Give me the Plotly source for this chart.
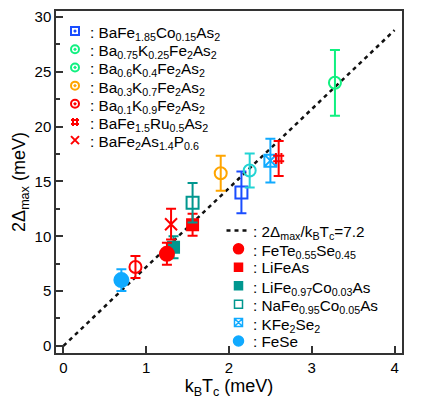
import plotly.graph_objects as go

# ---- data ----
names1 = [
    "BaFe<sub>1.85</sub>Co<sub>0.15</sub>As<sub>2</sub>",
    "Ba<sub>0.75</sub>K<sub>0.25</sub>Fe<sub>2</sub>As<sub>2</sub>",
    "Ba<sub>0.6</sub>K<sub>0.4</sub>Fe<sub>2</sub>As<sub>2</sub>",
    "Ba<sub>0.3</sub>K<sub>0.7</sub>Fe<sub>2</sub>As<sub>2</sub>",
    "Ba<sub>0.1</sub>K<sub>0.9</sub>Fe<sub>2</sub>As<sub>2</sub>",
    "BaFe<sub>1.5</sub>Ru<sub>0.5</sub>As<sub>2</sub>",
    "BaFe<sub>2</sub>As<sub>1.4</sub>P<sub>0.6</sub>",
]
kbtc1 = [2.15, 3.28, 2.25, 1.90, 0.87, 2.60, 1.30]
gap1 = [14.0, 24.0, 16.0, 15.75, 7.2, 17.1, 11.1]
err1 = [1.9, 3.0, 1.55, 1.6, 1.0, 1.6, 1.4]

names2 = [
    "FeTe<sub>0.55</sub>Se<sub>0.45</sub>",
    "LiFeAs",
    "LiFe<sub>0.97</sub>Co<sub>0.03</sub>As",
    "NaFe<sub>0.95</sub>Co<sub>0.05</sub>As",
    "KFe<sub>2</sub>Se<sub>2</sub>",
    "FeSe",
]
kbtc2 = [1.25, 1.56, 1.33, 1.56, 2.50, 0.70]
gap2 = [8.4, 11.05, 9.0, 13.05, 16.9, 6.0]
err2 = [1.0, 1.0, 1.0, 1.8, 2.0, 1.0]

ratio = 7.2
line_label = "2Δ<sub>max</sub>/k<sub>B</sub>T<sub>c</sub>=7.2"
line_x = [0, 4]
x_ticks = [0, 1, 2, 3, 4]
y_ticks = [0, 5, 10, 15, 20, 25, 30]

# ---- styles ----
RED = "#ff0000"
TEAL = "#00978f"
LBLUE = "#10aaff"
GREEN = "#10f080"
sty1 = [
    dict(color="#1a4dff", plot_sym="square-open", leg_sym="square-open-dot", size=12),
    dict(color=GREEN, plot_sym="circle-open", leg_sym="circle-open-dot", size=12),
    dict(color="#22d4d4", plot_sym="circle-open", leg_sym="circle-open-dot", size=12, leg_color=GREEN),
    dict(color="#ffa500", plot_sym="circle-open", leg_sym="circle-open-dot", size=12),
    dict(color=RED, plot_sym="circle-open", leg_sym="circle-open-dot", size=12),
    dict(color=RED, plot_sym="hash-open", leg_sym="hash-open", size=11),
    dict(color=RED, plot_sym="x-thin-open", leg_sym="x-thin-open", size=12),
]
sty2 = [
    dict(color=RED, plot_sym="circle", leg_sym="circle", size=14, leg_size=10),
    dict(color=RED, plot_sym="square", leg_sym="square", size=11, leg_size=8),
    dict(color=TEAL, plot_sym="square", leg_sym="square", size=11, leg_size=8),
    dict(color=TEAL, plot_sym="square-open", leg_sym="square-open", size=12, leg_size=8),
    dict(color=LBLUE, plot_sym="square-x-open", leg_sym="square-x-open", size=12, leg_size=8),
    dict(color=LBLUE, plot_sym="circle", leg_sym="circle", size=14, leg_size=10),
]

FONT = "Liberation Sans, Arial, sans-serif"
L, R, T, B = 56, 34, 8, 47
W, H = 436, 400
PW, PH = W - L - R, H - T - B


def px2x(px):
    return (px - L) / PW


def py2y(py):
    return (H - B - py) / PH


fig = go.Figure()

# reference line
fig.add_trace(go.Scatter(
    x=line_x, y=[ratio * v for v in line_x], mode="lines",
    line=dict(color="#111111", width=2.5, dash="4px,4px"),
    showlegend=False,
))


def add_points(xs, ys, es, st, order):
    for i in order:
        s = st[i]
        fig.add_trace(go.Scatter(
            x=[xs[i]], y=[ys[i]], mode="markers",
            marker=dict(symbol=s["plot_sym"], size=s["size"], color=s["color"],
                        line=dict(color=s["color"], width=2)),
            error_y=dict(type="data", array=[es[i]], color=s["color"],
                         thickness=2, width=5),
            showlegend=False,
        ))


# draw order: teal LiFeCo behind FeTe
add_points(kbtc2, gap2, err2, sty2, [5, 2, 0, 1, 3, 4])
add_points(kbtc1, gap1, err1, sty1, [4, 6, 3, 0, 2, 5, 1])

# ---- hand-built legends (overlay axes in paper fractions) ----
annotations = []
LEG_FS = 15.3
# legend 1 (top-left)
l1_mx, l1_tx, l1_y0, l1_dy = 75, 88, 28.3, 18.33
for i, n in enumerate(names1):
    s = sty1[i]
    c = s.get("leg_color", s["color"])
    yy = l1_y0 + l1_dy * i
    fig.add_trace(go.Scatter(
        x=[px2x(l1_mx)], y=[py2y(yy)], xaxis="x2", yaxis="y2", mode="markers",
        marker=dict(symbol=s["leg_sym"], size=8, color=c, line=dict(color=c, width=2)),
        cliponaxis=False, showlegend=False, hoverinfo="skip",
    ))
    annotations.append(dict(
        x=px2x(l1_tx), y=py2y(yy + 2.5), xref="paper", yref="paper",
        xanchor="left", yanchor="middle", showarrow=False,
        text=": " + n, font=dict(size=LEG_FS, family=FONT, color="#000000"),
    ))

# legend 2 (bottom-right)
l2_mx, l2_tx, l2_y0, l2_dy = 238.5, 251, 229.3, 18.6
fig.add_trace(go.Scatter(
    x=[px2x(l2_mx - 12), px2x(l2_mx + 12)], y=[py2y(l2_y0)] * 2,
    xaxis="x2", yaxis="y2", mode="lines",
    line=dict(color="#111111", width=2.5, dash="4px,4px"),
    cliponaxis=False, showlegend=False, hoverinfo="skip",
))
annotations.append(dict(
    x=px2x(l2_tx), y=py2y(l2_y0 + 2.5), xref="paper", yref="paper",
    xanchor="left", yanchor="middle", showarrow=False,
    text=": " + line_label, font=dict(size=LEG_FS, family=FONT, color="#000000"),
))
for i, n in enumerate(names2):
    s = sty2[i]
    yy = l2_y0 + l2_dy * (i + 1)
    fig.add_trace(go.Scatter(
        x=[px2x(l2_mx)], y=[py2y(yy)], xaxis="x2", yaxis="y2", mode="markers",
        marker=dict(symbol=s["leg_sym"], size=s["leg_size"], color=s["color"],
                    line=dict(color=s["color"], width=1.5)),
        cliponaxis=False, showlegend=False, hoverinfo="skip",
    ))
    annotations.append(dict(
        x=px2x(l2_tx), y=py2y(yy + (2.5 if "<sub>" in n else 0)), xref="paper", yref="paper",
        xanchor="left", yanchor="middle", showarrow=False,
        text=": " + n, font=dict(size=LEG_FS, family=FONT, color="#000000"),
    ))

axis_common = dict(
    showline=True, mirror=True, linecolor="#333333", linewidth=1.5,
    ticks="inside", ticklen=7, tickwidth=1.5, tickcolor="#333333",
    showgrid=False, zeroline=False,
    tickfont=dict(size=15, color="#000000", family=FONT),
)
fig.update_layout(
    width=W, height=H,
    margin=dict(l=L, r=R, t=T, b=B),
    paper_bgcolor="white", plot_bgcolor="white",
    font=dict(family=FONT, color="#000000"),
    showlegend=False,
    xaxis=dict(range=[-0.09, 4.09], tickvals=x_ticks,
               title=dict(text="k<sub>B</sub>T<sub>c</sub> (meV)", font=dict(size=18), standoff=3),
               **axis_common),
    yaxis=dict(range=[-0.65, 30.55], tickvals=y_ticks,
               minor=dict(dtick=2.5, ticks="inside", ticklen=4, tickwidth=1.5, tickcolor="#333333"),
               title=dict(text="2Δ<sub>max</sub> (meV)", font=dict(size=18), standoff=4),
               **axis_common),
    xaxis2=dict(overlaying="x", range=[0, 1], visible=False, fixedrange=True),
    yaxis2=dict(overlaying="y", range=[0, 1], visible=False, fixedrange=True),
    annotations=annotations,
)

fig.write_html("out.html", config={"displayModeBar": False},
               post_script="document.body.style.margin='0px';")
